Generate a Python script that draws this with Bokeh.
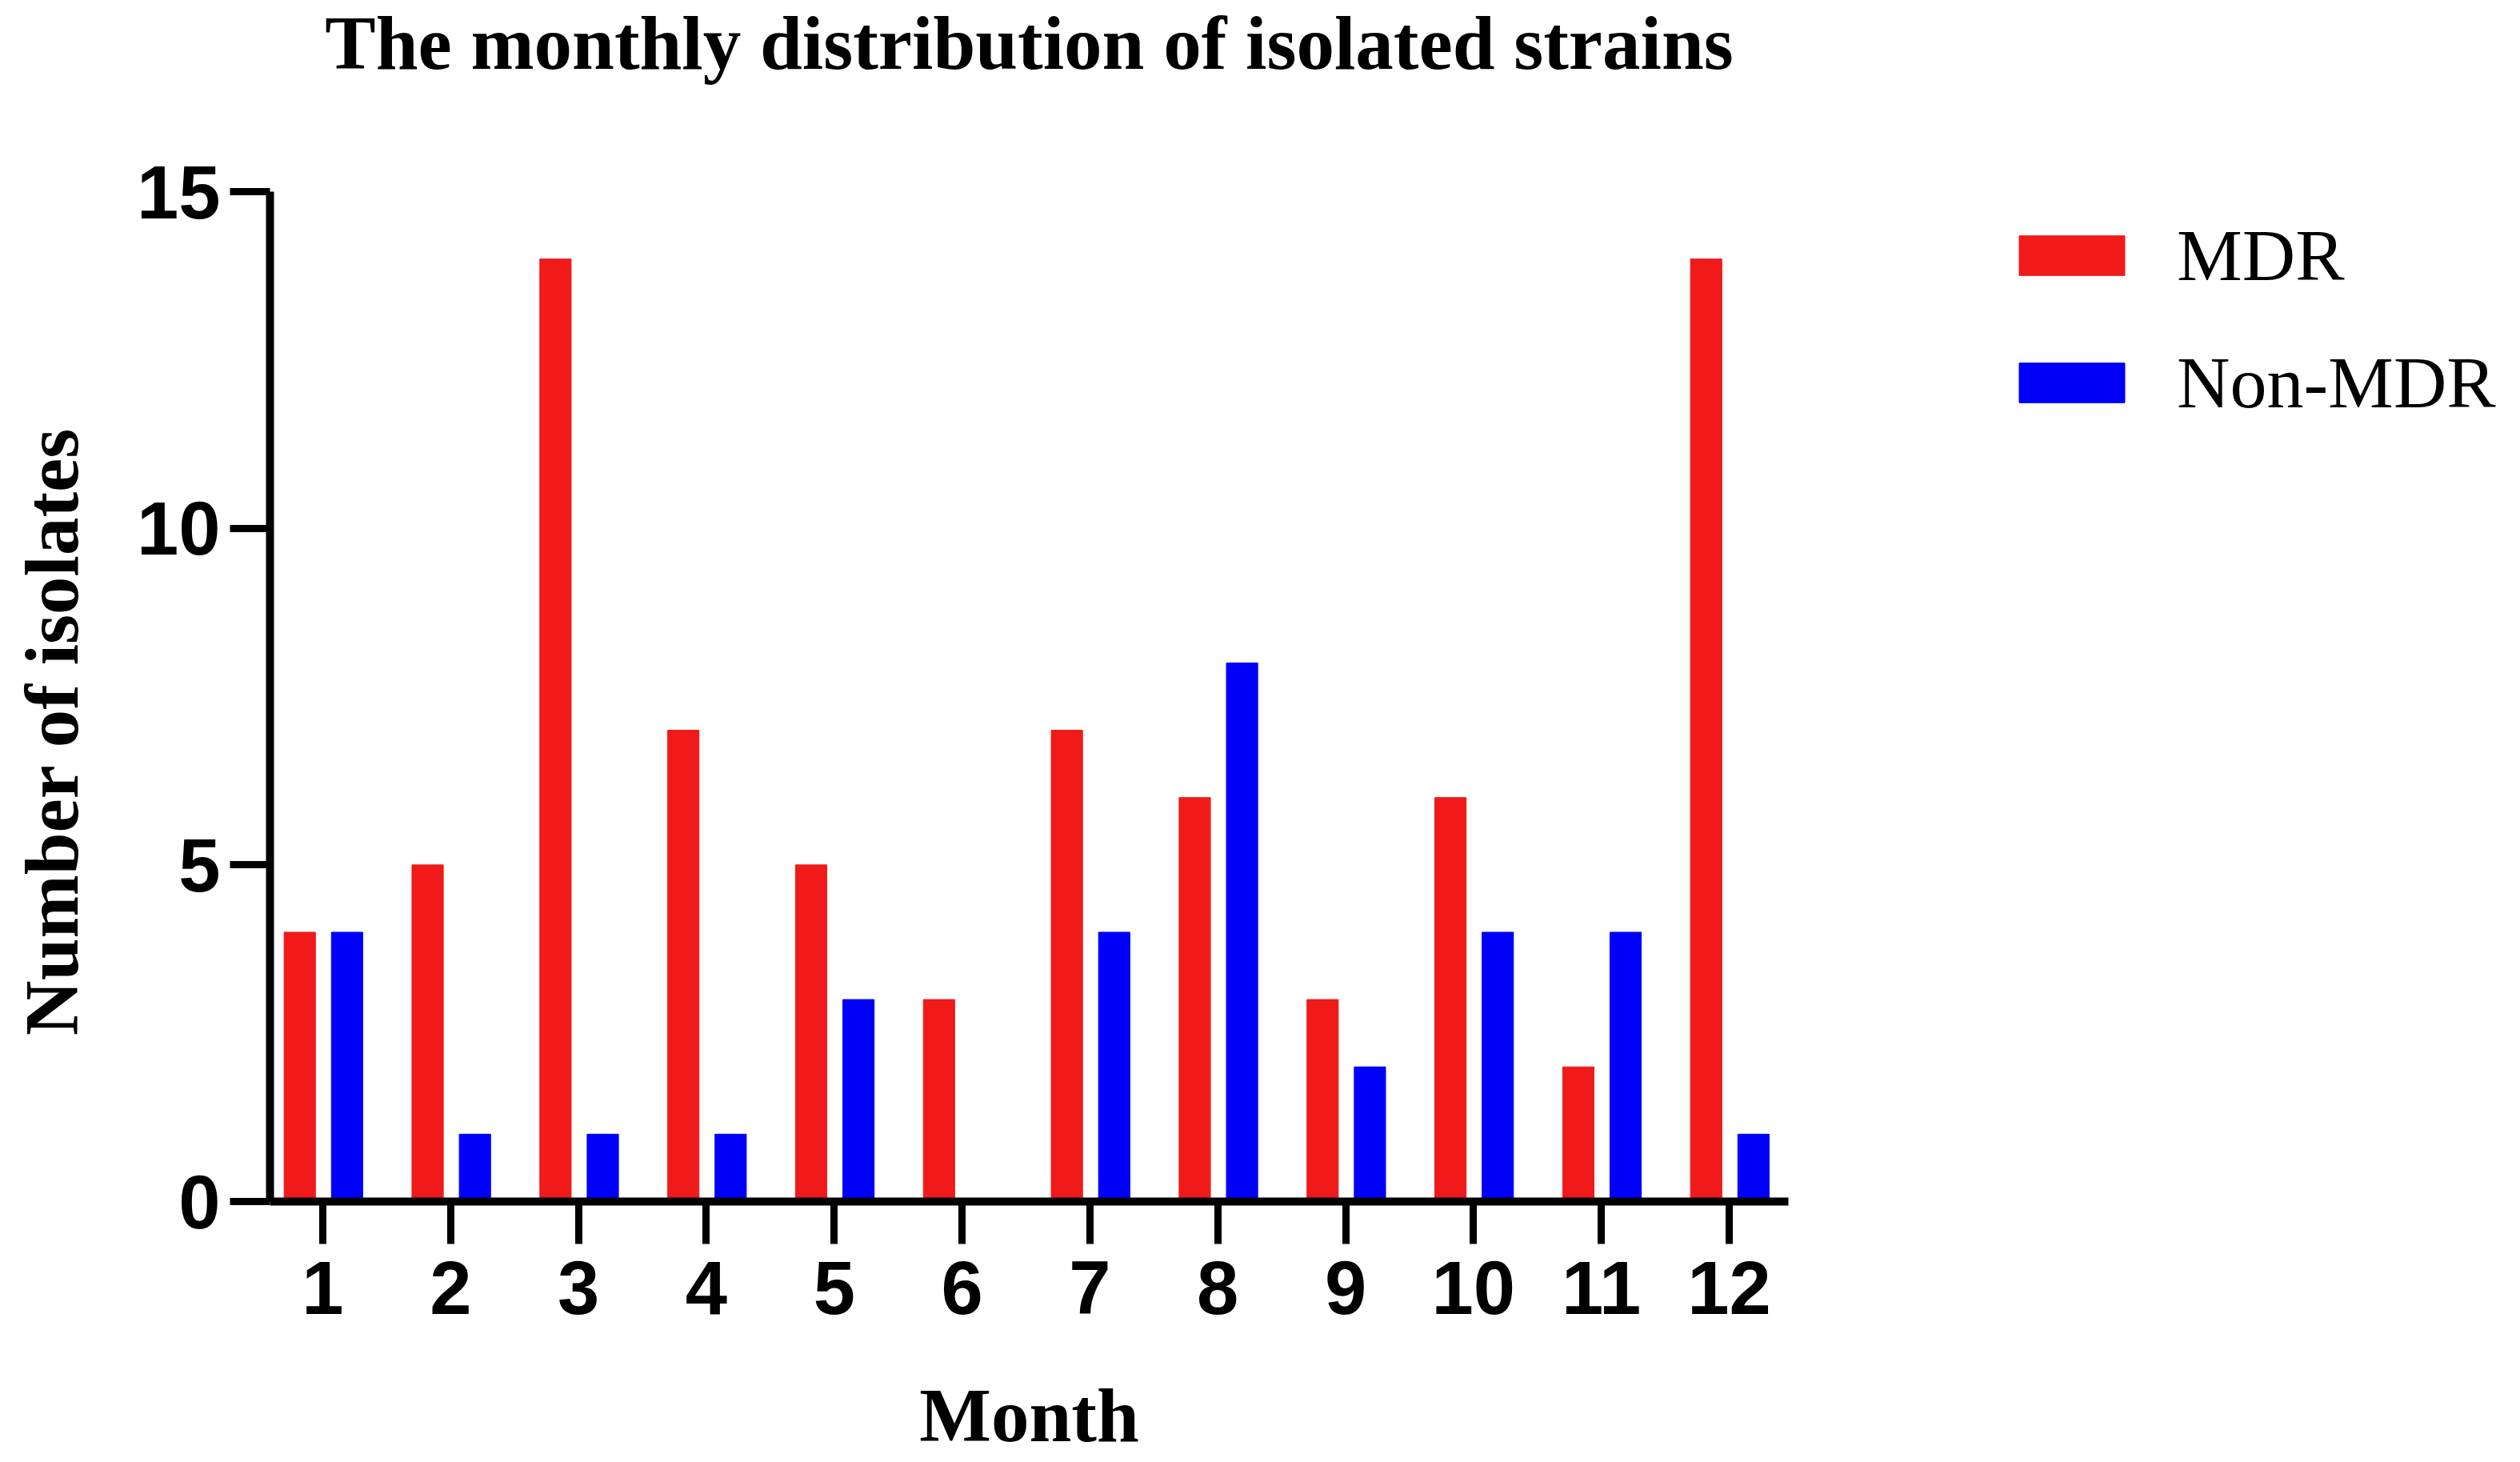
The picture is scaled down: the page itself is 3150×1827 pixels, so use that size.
from bokeh.plotting import figure
from bokeh.models import (ColumnDataSource, Range1d, FixedTicker, Legend,
                          LegendItem, Label)
from bokeh.transform import dodge
from bokeh.embed import file_html
from bokeh.resources import INLINE

# ---- data ----
months = list(range(1, 13))
month_labels = [str(m) for m in months]
mdr = [4, 5, 14, 7, 5, 3, 7, 6, 3, 6, 2, 14]
non_mdr = [4, 1, 1, 1, 3, 0, 4, 8, 2, 4, 4, 1]
y_ticks = [0, 5, 10, 15]
series_names = ["MDR", "Non-MDR"]
title_text = "The monthly distribution of isolated strains"
x_title = "Month"
y_title = "Number of isolates"

RED = "#F01A1A"
BLUE = "#0000FA"

# ---- layout geometry (pixels) ----
W, H = 3150, 1827
LEFT = 337                       # y-axis line
Y0_PX, Y15_PX = 1501, 239        # pixel rows of value 0 and value 15
X1_PX, X12_PX = 403, 2161        # pixel columns of month 1 and month 12
X_AXIS_END_PX = 2235
y_max = y_ticks[-1]
ppu = (Y0_PX - Y15_PX) / y_max   # pixels per unit (y)
ppx = (X12_PX - X1_PX) / (months[-1] - months[0])   # pixels per unit (x)
y_start = -(H - Y0_PX) / ppu
y_end = y_max + Y15_PX / ppu
x_start = months[0] - (X1_PX - LEFT) / ppx
x_axis_end = months[-1] + (X_AXIS_END_PX - X12_PX) / ppx
x_end = x_start + (W - LEFT) / ppx

src = ColumnDataSource(dict(month=months, mdr=mdr, non_mdr=non_mdr))

p = figure(width=W, height=H, output_backend="svg", toolbar_location=None,
           title=None,
           x_range=Range1d(x_start, x_end), y_range=Range1d(y_start, y_end),
           min_border_left=LEFT, min_border_right=0,
           min_border_top=0, min_border_bottom=0)

p.background_fill_color = "white"
p.border_fill_color = "white"
p.outline_line_color = None
p.grid.visible = False

r1 = p.vbar(x=dodge("month", -0.18, range=p.x_range), top="mdr", width=0.245,
            source=src, fill_color=RED, line_color=RED, line_width=1)
r2 = p.vbar(x=dodge("month", 0.19, range=p.x_range), top="non_mdr", width=0.245,
            source=src, fill_color=BLUE, line_color=BLUE, line_width=1)

# ---- axes ----
p.xaxis.ticker = FixedTicker(ticks=months)
p.xaxis.major_label_overrides = {m: lab for m, lab in zip(months, month_labels)}
p.xaxis.fixed_location = 0
p.xaxis.bounds = (x_start, x_axis_end)
p.yaxis.ticker = FixedTicker(ticks=y_ticks)
p.yaxis.bounds = (0, y_max)

for ax in (p.xaxis, p.yaxis):
    ax.axis_line_width = 10
    ax.axis_line_color = "black"
    ax.major_tick_line_width = 9
    ax.major_tick_line_color = "black"
    ax.major_tick_in = 0
    ax.minor_tick_line_color = None
    ax.major_label_text_font = "Liberation Sans"
    ax.major_label_text_font_style = "bold"
    ax.major_label_text_font_size = "94px"
    ax.major_label_text_color = "black"
    ax.axis_label_text_font = "Liberation Serif"
    ax.axis_label_text_font_style = "bold"
    ax.axis_label_text_font_size = "95px"
    ax.axis_label_text_color = "black"

p.xaxis.major_tick_out = 53
p.yaxis.major_tick_out = 50
p.xaxis.major_label_standoff = 21
p.yaxis.major_label_standoff = 12
p.xaxis.axis_label = x_title
p.yaxis.axis_label = y_title
p.xaxis.axis_label_standoff = 71
p.yaxis.axis_label_standoff = 50

# ---- title (text label above the plot area) ----
title = Label(x=(x_start + x_axis_end) / 2, y=y_max + (Y15_PX - 53) / ppu,
              text=title_text, text_align="center", text_baseline="alphabetic",
              text_font="Liberation Serif", text_font_style="bold",
              text_font_size="95px", text_color="black")
p.add_layout(title)

# ---- legend ----
legend = Legend(items=[LegendItem(label=series_names[0], renderers=[r1]),
                       LegendItem(label=series_names[1], renderers=[r2])],
                location=(2170, 1296))
legend.label_text_font = "Liberation Serif"
legend.label_text_font_size = "92px"
legend.label_text_color = "black"
legend.glyph_width = 165
legend.glyph_height = 62
legend.label_standoff = 49
legend.spacing = 53
legend.padding = 0
legend.margin = 0
legend.border_line_color = None
legend.background_fill_alpha = 0
p.add_layout(legend, "center")

open("out.html", "w").write(file_html(p, INLINE))
